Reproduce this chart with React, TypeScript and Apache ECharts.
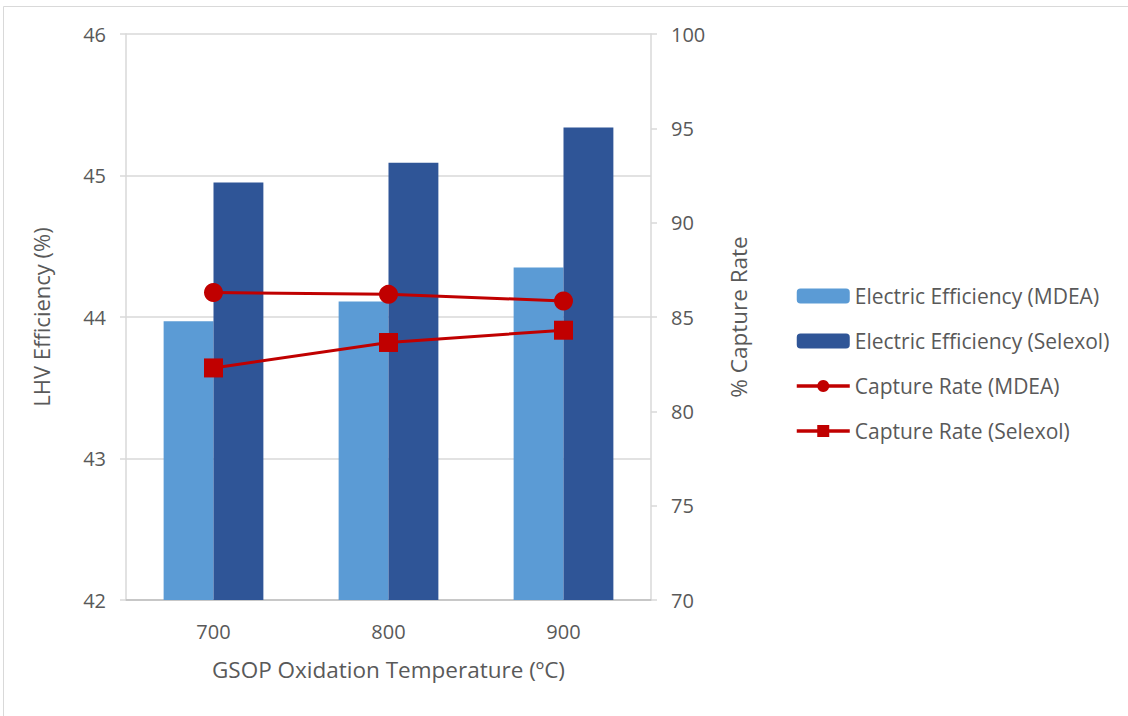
import React, { useEffect, useRef } from "react";
import * as echarts from "echarts";

const categories = ["700", "800", "900"];
const effMDEA = [43.97, 44.11, 44.35];
const effSelexol = [44.95, 45.09, 45.34];
const capMDEA = [86.3, 86.2, 85.85];
const capSelexol = [82.3, 83.65, 84.3];

const FONT = "'Open Sans', sans-serif";
const TXT = "#595959";

export default function App() {
  const ref = useRef<HTMLDivElement>(null);
  useEffect(() => {
    if (!ref.current) return;
    const chart = echarts.init(ref.current, undefined, { renderer: "svg" });
    chart.setOption({
      animation: false,
      backgroundColor: "#ffffff",
      textStyle: { fontFamily: FONT, color: TXT },
      graphic: [
        {
          type: "rect",
          shape: { x: 3.5, y: 6.5, width: 1300, height: 900 },
          style: { fill: "none", stroke: "#D9D9D9", lineWidth: 1 },
          silent: true,
        },
      ],
      grid: { left: 126, right: 477, top: 34, bottom: 116, containLabel: false },
      legend: {
        orient: "vertical",
        left: 790,
        top: 279,
        itemWidth: 53,
        itemHeight: 15,
        itemGap: 21,
        textStyle: { fontFamily: FONT, fontSize: 21, color: TXT, lineHeight: 24 },
        data: [
          { name: "Electric Efficiency (MDEA)" },
          { name: "Electric Efficiency (Selexol)" },
          { name: "Capture Rate (MDEA)", lineStyle: { width: 3.5 } },
          { name: "Capture Rate (Selexol)", lineStyle: { width: 3.5 } },
        ],
      },
      xAxis: {
        type: "category",
        data: categories,
        name: "GSOP Oxidation Temperature (ºC)",
        nameLocation: "middle",
        nameGap: 58,
        nameTextStyle: { fontFamily: FONT, fontSize: 22.5, color: TXT },
        axisLine: { lineStyle: { color: "#BFBFBF", width: 1.5 } },
        axisTick: { show: false },
        axisLabel: { fontFamily: FONT, fontSize: 20, color: TXT, margin: 21 },
      },
      yAxis: [
        {
          type: "value",
          min: 42,
          max: 46,
          interval: 1,
          name: "LHV Efficiency (%)",
          nameLocation: "middle",
          nameGap: 74,
          nameRotate: 90,
          nameTextStyle: { fontFamily: FONT, fontSize: 22, color: TXT },
          axisLine: { show: true, lineStyle: { color: "#D9D9D9", width: 1.5 } },
          axisTick: { show: true, length: 6, lineStyle: { color: "#D9D9D9", width: 1.5 } },
          axisLabel: { fontFamily: FONT, fontSize: 20, color: TXT, margin: 20 },
          splitLine: { show: true, lineStyle: { color: "#D9D9D9", width: 1.5 } },
        },
        {
          type: "value",
          min: 70,
          max: 100,
          interval: 5,
          name: "% Capture Rate",
          nameLocation: "middle",
          nameGap: 76,
          nameRotate: 90,
          nameTextStyle: { fontFamily: FONT, fontSize: 22.5, color: TXT },
          axisLine: { show: true, lineStyle: { color: "#D9D9D9", width: 1.5 } },
          axisTick: { show: true, length: 6, lineStyle: { color: "#D9D9D9", width: 1.5 } },
          axisLabel: { fontFamily: FONT, fontSize: 20, color: TXT, margin: 20 },
          splitLine: { show: false },
        },
      ],
      series: [
        {
          name: "Electric Efficiency (MDEA)",
          type: "bar",
          yAxisIndex: 0,
          data: effMDEA,
          barGap: "0%",
          barCategoryGap: "43%",
          itemStyle: { color: "#5B9BD5" },
        },
        {
          name: "Electric Efficiency (Selexol)",
          type: "bar",
          yAxisIndex: 0,
          data: effSelexol,
          barGap: "0%",
          barCategoryGap: "43%",
          itemStyle: { color: "#2F5597" },
        },
        {
          name: "Capture Rate (MDEA)",
          type: "line",
          yAxisIndex: 1,
          data: capMDEA,
          symbol: "circle",
          symbolSize: 19,
          lineStyle: { color: "#C00000", width: 3 },
          itemStyle: { color: "#C00000" },
          z: 5,
        },
        {
          name: "Capture Rate (Selexol)",
          type: "line",
          yAxisIndex: 1,
          data: capSelexol,
          symbol: "rect",
          symbolSize: 19,
          lineStyle: { color: "#C00000", width: 3 },
          itemStyle: { color: "#C00000" },
          z: 5,
        },
      ],
    });
    return () => chart.dispose();
  }, []);
  return (
    <div
      ref={ref}
      style={{ position: "fixed", left: 0, top: 0, width: 1128, height: 716 }}
    />
  );
}
